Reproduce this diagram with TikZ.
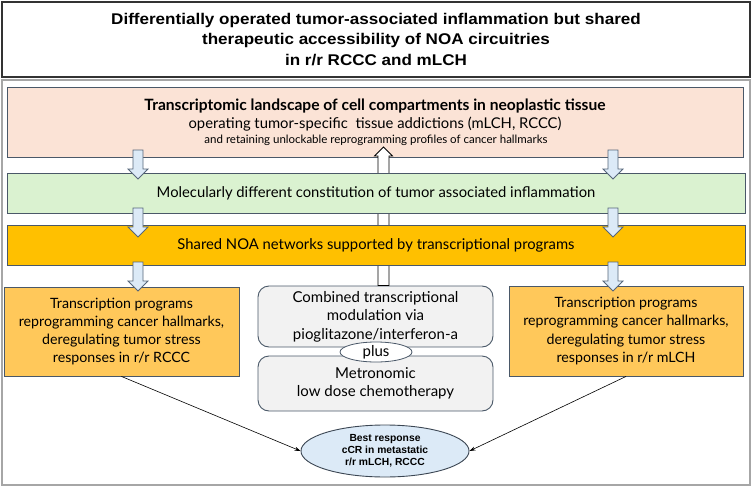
\documentclass[tikz,border=0pt]{standalone}
\usepackage{fontspec}
\setmainfont{Lato}
\newfontfamily\headfont[FakeStretch=1.1]{Liberation Sans}
\newfontfamily\ovalfont{Liberation Sans}
\usetikzlibrary{arrows.meta,shapes.geometric,calc}
\definecolor{bandline}{HTML}{4A5868}
\definecolor{landfill}{HTML}{FBE3D6}
\definecolor{inflfill}{HTML}{DAF2D0}
\definecolor{noafill}{HTML}{FFC000}
\definecolor{progfill}{HTML}{FFC85A}
\definecolor{therfill}{HTML}{F2F2F2}
\definecolor{respfill}{HTML}{DCEAF7}
\definecolor{arrline}{HTML}{56667A}
\tikzset{
  band/.style={draw=bandline, line width=0.9pt, inner sep=0pt},
  progbox/.style={band, fill=progfill, align=center,
    font=\fontsize{14.2}{18.3}\selectfont},
  therbox/.style={draw=bandline, line width=0.9pt, fill=therfill, rounded corners=11pt,
    align=center, inner sep=0pt, font=\fontsize{15}{18.5}\selectfont},
  downarr/.style={draw=arrline, fill=respfill, line width=0.8pt, line join=miter},
  uparr/.style={draw=black, fill=white, line width=0.8pt, line join=miter},
  conn/.style={-{Stealth[length=6pt,width=4pt]}, line width=0.6pt},
}
% block arrow from #2 to #3: shaft half width #4, head half width #5, head length #6
\newcommand{\blockarrow}[6][]{%
  \coordinate (hb) at ($(#3)!#6!(#2)$);
  \draw[#1] ($(#2)!#4!90:(#3)$) -- ($(hb)!#4!90:(#3)$) -- ($(hb)!#5!90:(#3)$) -- (#3)
    -- ($(hb)!#5!-90:(#3)$) -- ($(hb)!#4!-90:(#3)$) -- ($(#2)!#4!-90:(#3)$) -- cycle;
}
\begin{document}
\begin{tikzpicture}[x=1pt,y=-1pt]
  \useasboundingbox (0,0) rectangle (752,487);
  % heading
  \node[draw=black!80, line width=1.1pt, minimum width=748pt, minimum height=75pt,
    align=center, font=\headfont\bfseries\fontsize{15.5}{20.5}\selectfont] (head) at (376,39.5)
    {Differentially operated tumor-associated inflammation but shared\\
     therapeutic accessibility of NOA circuitries\\
     in r/r RCCC and mLCH};
  \draw[gray!70, line width=1.2pt] (2,80) rectangle (750,485);
  % transcriptomic landscape
  \node[band, fill=landfill, minimum width=736pt, minimum height=70pt] (land) at (375,122) {};
  \node[font=\bfseries\fontsize{15.6}{16}\selectfont] (landtitle) at (375,106)
    {Transcriptomic landscape of cell compartments in neoplastic tissue};
  \node[font=\fontsize{14.8}{16}\selectfont] (landsub) at (375,124)
    {operating tumor-specific\ \ tissue addictions (mLCH, RCCC)};
  \node[font=\fontsize{11.5}{12}\selectfont] (landnote) at (376,140)
    {and retaining unlockable reprogramming profiles of cancer hallmarks};
  % lower row
  \node[progbox, minimum width=235pt, minimum height=89pt] (rccc) at (121.5,331.5)
    {Transcription programs\\ reprogramming cancer hallmarks,\\
     deregulating tumor stress\\ responses in r/r RCCC};
  \node[progbox, minimum width=234pt, minimum height=90pt] (mlch) at (626,331)
    {Transcription programs\\ reprogramming cancer hallmarks,\\
     deregulating tumor stress\\ responses in r/r mLCH};
  \node[therbox, minimum width=235pt, minimum height=61pt] (combi) at (375.5,316.5)
    {Combined transcriptional\\ modulation via\\ pioglitazone/interferon-a};
  \node[therbox, minimum width=235pt, minimum height=55pt] (metro) at (375.5,383.5)
    {Metronomic\\ low dose chemotherapy};
  \node[ellipse, draw=bandline, line width=0.8pt, fill=white, minimum width=72pt,
    minimum height=20pt, inner sep=0pt, font=\fontsize{15}{16}\selectfont] (plus) at (376,352) {plus};
  % feedback arrow, behind the bands
  \coordinate (backtail) at (combi.north -| 383.5,0);
  \coordinate (backtip) at (383.5,147);
  \blockarrow[uparr]{backtail}{backtip}{5.5pt}{9pt}{9pt}
  \node[band, fill=inflfill, minimum width=738pt, minimum height=40pt,
    font=\fontsize{14.8}{16}\selectfont] (infl) at (376,193)
    {Molecularly different constitution of tumor associated inflammation};
  \node[band, fill=noafill, minimum width=738pt, minimum height=40pt,
    font=\fontsize{14.8}{16}\selectfont] (noa) at (376,245)
    {Shared NOA networks supported by transcriptional programs};
  \node[ellipse, draw=bandline!80!black, line width=0.9pt, fill=respfill, minimum width=168pt,
    minimum height=52pt, inner sep=0pt, align=center,
    font=\ovalfont\bfseries\fontsize{10.3}{12.2}\selectfont] (best) at (385,451)
    {Best response\\ cCR in metastatic\\ r/r mLCH, RCCC};
  % block arrows between the bands
  \foreach \xa/\nm in {138/l, 613/r} {
    \coordinate (t1\nm) at (\xa,150);  \coordinate (h1\nm) at (\xa,179);
    \coordinate (t2\nm) at (\xa,208);  \coordinate (h2\nm) at (\xa,237);
    \coordinate (t3\nm) at (\xa,262);  \coordinate (h3\nm) at (\xa,291);
    \blockarrow[downarr]{t1\nm}{h1\nm}{5pt}{10pt}{10pt}
    \blockarrow[downarr]{t2\nm}{h2\nm}{5pt}{10pt}{10pt}
    \blockarrow[downarr]{t3\nm}{h3\nm}{5pt}{10pt}{10pt}
  }
  % connectors
  \draw[conn] (rccc.south) -- (best.west);
  \draw[conn] (mlch.south) -- (best.east);
\end{tikzpicture}
\end{document}
